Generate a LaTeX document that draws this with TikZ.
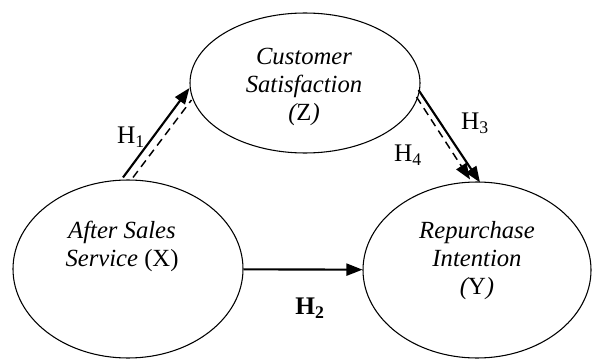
\documentclass[tikz,border=0pt]{standalone}
\usepackage{fontspec}
\setmainfont{Liberation Serif}
\usepackage{tikz}
\usetikzlibrary{arrows.meta,positioning,shapes.geometric,calc}
\tikzset{
smvar/.style={ellipse,draw,line width=0.8pt,inner sep=0pt},
smtext/.style={align=center,font=\fontsize{18.5}{21}\selectfont\itshape,inner sep=0pt},
smarr/.style={-{Triangle[length=12pt,width=9pt]},line width=1.6pt},
smdash/.style={line width=1.1pt,dash pattern=on 6pt off 4pt},
smdasharr/.style={smdash,-{Triangle[length=12pt,width=9pt]}},
smlabel/.style={font=\fontsize{19}{22}\selectfont,inner sep=1pt}
}

\begin{document}
\begin{tikzpicture}[
x=0.75pt,
y=-0.75pt
]
\useasboundingbox (0,0) rectangle (592,360);
% the three variables
\node[smvar,minimum width=172.5pt,minimum height=105pt]
  (cs) at (305,83) {};
\node[smvar,minimum width=172.5pt,minimum height=133.5pt]
  (asr) at (128,269) {};
\node[smvar,minimum width=171pt,minimum height=132pt]
  (ri) at (477,270) {};
\node[smtext] (cstext) at (304,87)
  {Customer\\Satisfaction\\\textit{(}\upshape Z\textit{)}};
\node[smtext] (asrtext) at (122,246)
  {After Sales\\Service \upshape(X)};
\node[smtext] (ritext) at (477,261)
  {Repurchase\\Intention\\\textit{(}\upshape Y\textit{)}};
% paths
\draw[smarr] ([xshift=-3.75pt,yshift=1.5pt]asr.north)--([yshift=-3.75pt]cs.west);
\draw[smdash] ([xshift=3.75pt,yshift=1.5pt]asr.north)--([xshift=1.5pt,yshift=-12.75pt]cs.west);
\draw[smarr] (asr)--(ri);
\draw[smarr] ([xshift=-1.5pt,yshift=-5.25pt]cs.east)--([xshift=2.25pt,yshift=-0.75pt]ri.north);
\draw[smdasharr] ([xshift=-3pt,yshift=-10.5pt]cs.east)--([xshift=-5.25pt,yshift=1.5pt]ri.north);
\node[smlabel] (h1) at (131,137) {H\textsubscript{1}};
\node[smlabel] (h2) at (310,308) {\textbf{H\textsubscript{2}}};
\node[smlabel] (h3) at (475,123) {H\textsubscript{3}};
\node[smlabel] (h4) at (408,155) {H\textsubscript{4}};
\end{tikzpicture}
\end{document}
